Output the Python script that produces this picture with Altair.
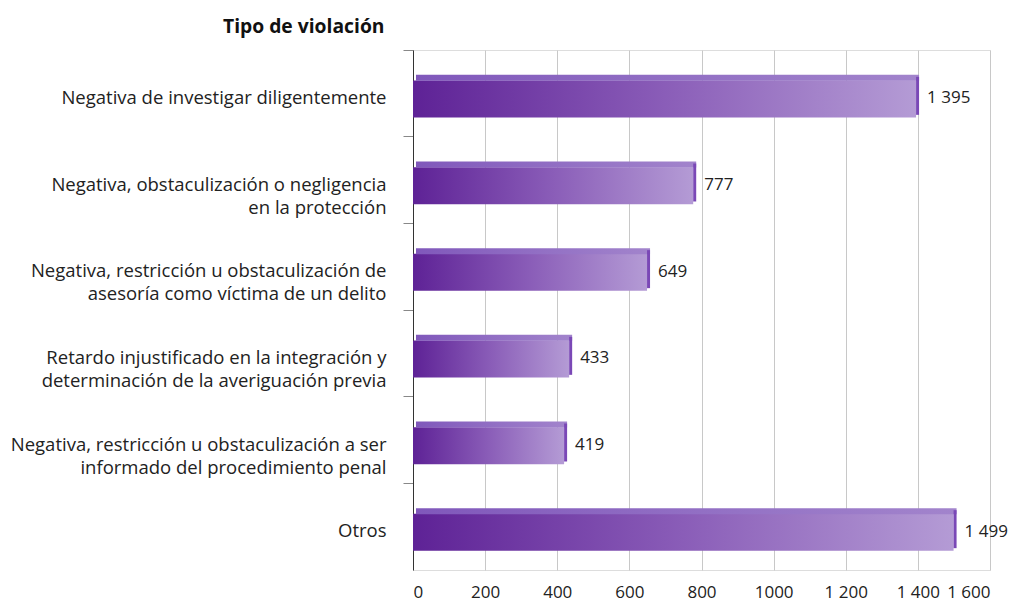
import altair as alt
import pandas as pd

categories = [
    "Negativa de investigar diligentemente",
    "Negativa, obstaculización o negligencia\nen la protección",
    "Negativa, restricción u obstaculización de\nasesoría como víctima de un delito",
    "Retardo injustificado en la integración y\ndeterminación de la averiguación previa",
    "Negativa, restricción u obstaculización a ser\ninformado del procedimiento penal",
    "Otros",
]
values = [1395, 777, 649, 433, 419, 1499]
value_labels = ["1 395", "777", "649", "433", "419", "1 499"]
x_ticks = [0, 200, 400, 600, 800, 1000, 1200, 1400, 1600]
x_tick_labels = ["0", "200", "400", "600", "800", "1000", "1 200", "1 400", "1 600"]

df = pd.DataFrame({"cat": categories, "v": values, "lab": value_labels})

FONT = "Open Sans"

label_arr = "[" + ",".join("'" + s + "'" for s in x_tick_labels) + "]"

y_enc = alt.Y(
    "cat:N",
    sort=categories,
    scale=alt.Scale(paddingInner=0, paddingOuter=0),
    axis=alt.Axis(
        title="Tipo de violación",
        titleAngle=0,
        titleAlign="right",
        titleBaseline="alphabetic",
        titleX=-29,
        titleY=-18,
        titleFont=FONT,
        titleFontSize=19.3,
        titleFontWeight="bold",
        titleColor="#111111",
        bandPosition=0,
        labelOffset=4.5,
        labelExpr="split(datum.label, '\\n')",
        labelFont=FONT,
        labelFontSize=18.5,
        labelColor="#222222",
        labelLineHeight=23,
        labelPadding=17,
        labelBaseline="middle",
        labelLimit=500,
        domain=True,
        domainColor="#333333",
        ticks=True,
        tickColor="#888888",
        tickSize=10,
        grid=False,
    ),
)

x_enc = alt.X(
    "v:Q",
    scale=alt.Scale(domain=[0, 1600], nice=False),
    axis=alt.Axis(
        title=None,
        values=x_ticks,
        labelExpr=label_arr + "[round(datum.value / 200)]",
        labelFont=FONT,
        labelFontSize=17,
        labelColor="#222222",
        labelPadding=27,
        labelBaseline="alphabetic",
        domain=False,
        ticks=False,
        grid=True,
        gridColor="#c8c8c8",
        gridWidth=1,
    ),
)

main_grad = alt.Gradient(
    gradient="linear",
    stops=[
        alt.GradientStop(color="#5e2296", offset=0),
        alt.GradientStop(color="#8a5db8", offset=0.5),
        alt.GradientStop(color="#b49bd5", offset=1),
    ],
    x1=0, x2=1, y1=0, y2=0,
)
top_grad = alt.Gradient(
    gradient="linear",
    stops=[
        alt.GradientStop(color="#8058bb", offset=0),
        alt.GradientStop(color="#a284cc", offset=1),
    ],
    x1=0, x2=1, y1=0, y2=0,
)

base = alt.Chart(df)

top_face = base.mark_bar(color=top_grad, size=6, yOffset=-15.5, xOffset=3, x2Offset=2).encode(
    x=x_enc, y=y_enc
)
main = base.mark_bar(color=main_grad, size=37, yOffset=5.7).encode(x=x_enc, y=y_enc)
side = base.mark_tick(orient="vertical", color="#7a48b6", size=38, thickness=3, xOffset=1.5, yOffset=2.5, opacity=1).encode(
    x=x_enc, y=y_enc
)
text = base.mark_text(align="left", baseline="middle", dx=11, yOffset=5, font=FONT, fontSize=17, color="#222222").encode(
    x=x_enc, y=y_enc, text="lab:N"
)

chart = (
    alt.layer(main, top_face, side, text)
    .properties(
        width=577,
        height=520,
        autosize=alt.AutoSizeParams(type="none"),
        padding={"left": 405, "top": 42, "right": 18, "bottom": 33},
    )
    .configure_view(stroke=None)
    .configure(background="white")
)

chart.save("out.html", embed_options={"renderer": "svg", "actions": False})
